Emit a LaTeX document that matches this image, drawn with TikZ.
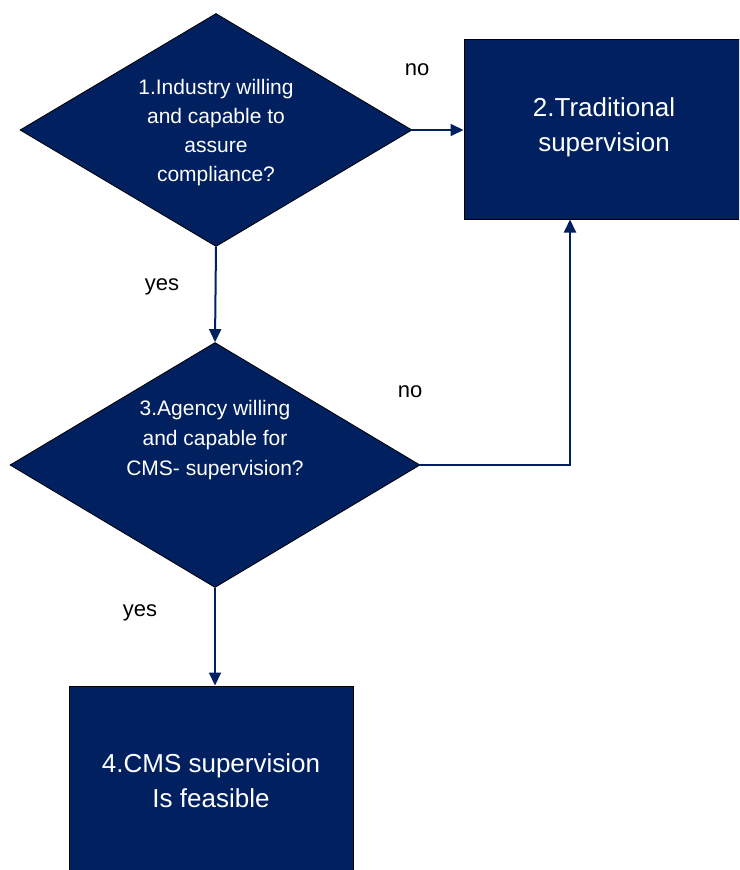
\documentclass[tikz,border=0pt]{standalone}
\usepackage{fontspec}
\setmainfont{Liberation Sans}
\usetikzlibrary{shapes.geometric,arrows.meta}
\definecolor{navy}{RGB}{0,32,96}
\tikzset{
  decision/.style={shape=diamond, draw=black, line width=0.8pt, fill=navy, inner sep=0pt, text=white},
  procbox/.style={shape=rectangle, draw=black, line width=1pt, fill=navy, inner sep=0pt, text=white, align=center, font=\fontsize{26}{35}\selectfont},
  dtext/.style={text=white, align=center, font=\fontsize{21}{29}\selectfont},
  lbl/.style={text=black, font=\fontsize{22}{26}\selectfont},
  arr/.style={draw=navy, line width=2pt, -{Triangle[length=13pt,width=12pt]}},
}
\begin{document}
\begin{tikzpicture}[x=1pt,y=-1pt]
\clip (0,0) rectangle (739,870);
\fill[white] (0,0) rectangle (739,870);
% decision 1
\node[decision, minimum width=392pt, minimum height=233pt] (d1) at (216,130) {};
\node[dtext] (t1) at (216,133) {1.Industry willing\\and capable to\\assure\\compliance?};
% box 2 (runs past the right edge)
\node[procbox, minimum width=284pt, minimum height=180pt] (b2) at (606,129) {};
\node[procbox, draw=none, fill=none] (t2) at (604,127) {2.Traditional\\supervision};
% decision 3
\node[decision, minimum width=410pt, minimum height=245pt] (d3) at (215,465) {};
\node[dtext, font=\fontsize{21}{30}\selectfont] (t3) at (215,440) {3.Agency willing\\and capable for\\CMS- supervision?};
% box 4 (runs past the bottom edge)
\node[procbox, minimum width=284pt, minimum height=210pt] (b4) at (211,791) {};
\node[procbox, draw=none, fill=none] (t4) at (211,781) {4.CMS supervision\\Is feasible};
% connectors
\draw[arr] (d1.east) -- (b2.west |- d1.east);
\draw[arr] (d1.south) -- (d3.north);
\draw[arr] (d3.east) -| ([xshift=-36pt]b2.south);
\draw[arr] (d3.south) -- (d3.south |- b4.north);
% labels
\node[lbl] (n1) at (417,70) {no};
\node[lbl] (y1) at (162,287) {yes};
\node[lbl] (n2) at (410,392) {no};
\node[lbl] (y2) at (140,613) {yes};
\end{tikzpicture}
\end{document}
